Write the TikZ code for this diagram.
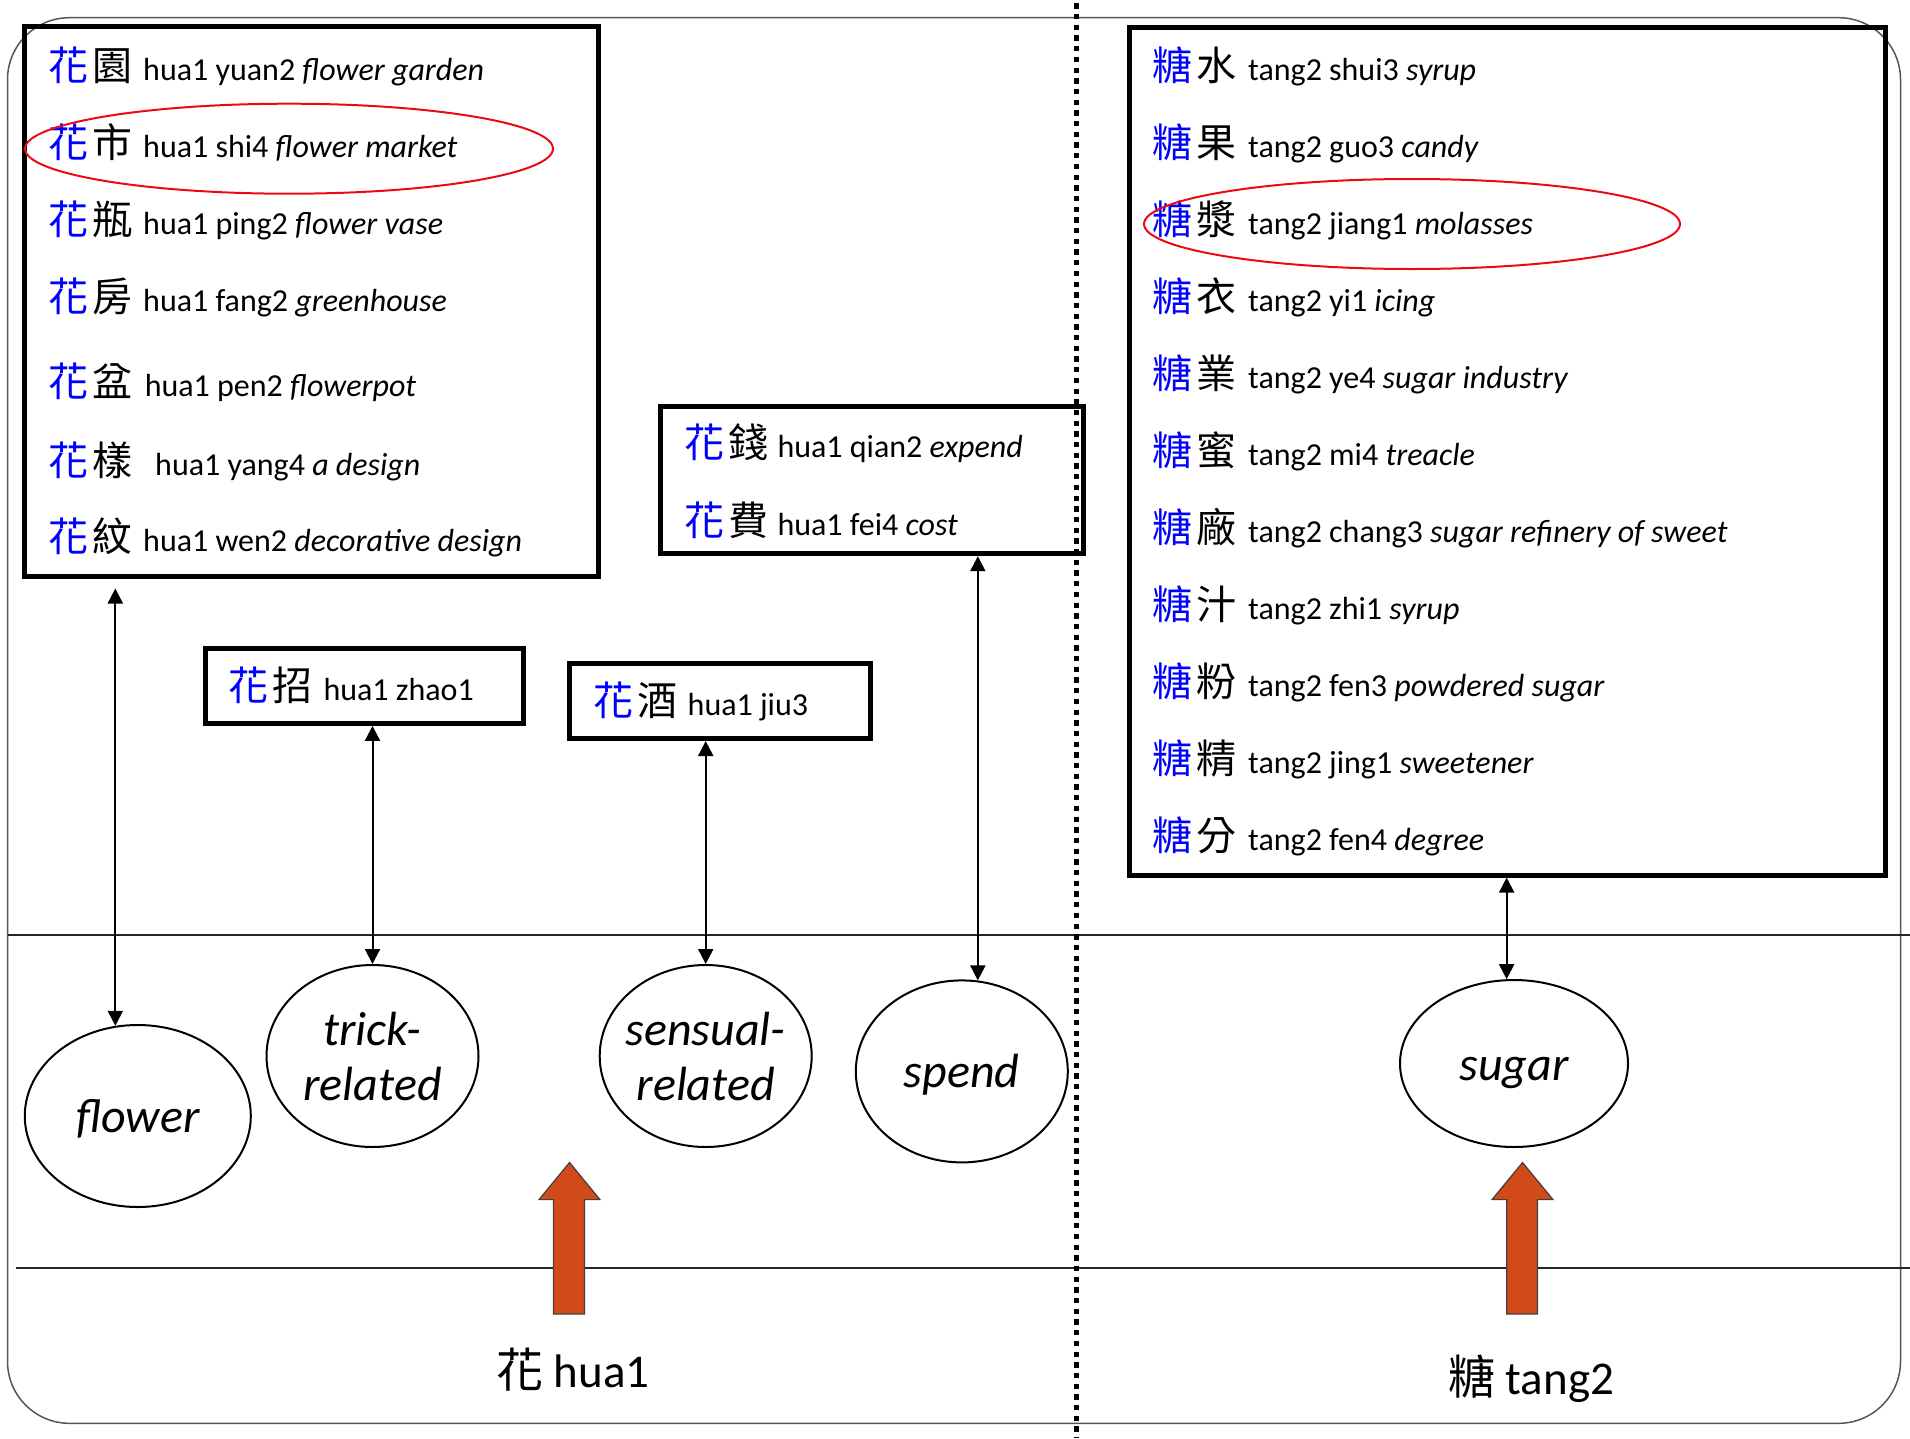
\documentclass[tikz,border=0pt]{standalone}
\usepackage{fontspec}
\setmainfont{Carlito}
\newfontfamily\cjkfont{Noto Sans CJK TC}
\usetikzlibrary{shapes.geometric,arrows.meta,calc}
\definecolor{zhblue}{RGB}{0,0,255}
\definecolor{hlred}{RGB}{235,10,20}
\definecolor{blockorange}{RGB}{210,74,24}
\definecolor{framegray}{RGB}{85,85,85}
\newcommand{\cjkpair}[2]{{\cjkfont\fontsize{40}{44}\selectfont\textcolor{zhblue}{#1}\hspace{4pt}#2}}
\newcommand{\wentry}[7]{\node[entry] (#1) at (#2,#3) {\makebox[#4pt][l]{\cjkpair{#5}{#6}}#7};}
\begin{document}
\begin{tikzpicture}[x=1pt,y=-1pt,
  bigbox/.style={draw=black, line width=5pt, rectangle, inner sep=0pt},
  ell/.style={draw=black, line width=2pt, ellipse, inner sep=0pt, align=center, font=\fontsize{48}{55}\selectfont\itshape},
  oneline/.style={text height=40pt, text depth=7pt},
  hl/.style={draw=hlred, line width=2pt, ellipse, inner sep=0pt},
  entry/.style={anchor=base west, inner sep=0pt, font=\fontsize{32}{38}\selectfont},
  dbl/.style={{Triangle[length=15pt,width=15pt]}-{Triangle[length=15pt,width=15pt]}, line width=2pt},
  block/.style={fill=blockorange, draw=black!75, line width=1.2pt},
  baselabel/.style={anchor=base, inner sep=0pt, font=\fontsize{47}{55}\selectfont}
]
\useasboundingbox (0,0) rectangle (1910,1438);
% frame and lines
\draw[framegray, line width=1.5pt, rounded corners=62pt] (7.5,17.7) rectangle (1900.5,1423.3);
\draw[black!85, line width=2pt] (7.5,935) -- (1910,935);
\draw[black!85, line width=2pt] (15.5,1268) -- (1910,1268);
\draw[line width=5pt, dash pattern=on 5.3pt off 5.4pt, dash phase=7.4pt] (1076,0) -- (1076,1438);

% boxes
\node[bigbox, minimum width=574.2pt, minimum height=549.3pt] (leftbox) at (311.4,301.35) {};
\node[bigbox, minimum width=756pt, minimum height=847.7pt] (rightbox) at (1507,451.2) {};
\node[bigbox, minimum width=422.7pt, minimum height=147.7pt] (spendbox) at (871.65,479.85) {};
\node[bigbox, minimum width=317.2pt, minimum height=75.2pt] (trickbox) at (364.4,685.8) {};
\node[bigbox, minimum width=301.6pt, minimum height=75pt] (sensbox) at (720,701) {};

% left entries
\wentry{l1}{48.6}{80}{94.4}{花}{園}{hua1 yuan2 \textit{flower garden}}
\wentry{l2}{48.6}{157}{94.4}{花}{市}{hua1 shi4 \textit{flower market}}
\wentry{l3}{48.6}{234}{94.4}{花}{瓶}{hua1 ping2 \textit{flower vase}}
\wentry{l4}{48.6}{311.5}{94.4}{花}{房}{hua1 fang2 \textit{greenhouse}}
\wentry{l5}{48.6}{396}{96}{花}{盆}{hua1 pen2 \textit{flowerpot}}
\wentry{l6}{48.6}{475}{106.4}{花}{樣}{hua1 yang4 \textit{a design}}
\wentry{l7}{48.6}{551}{94.4}{花}{紋}{hua1 wen2 \textit{decorative design}}

% spend / trick / sensual entries
\wentry{s1}{684}{457}{93.3}{花}{錢}{hua1 qian2 \textit{expend}}
\wentry{s2}{684}{535}{93.3}{花}{費}{hua1 fei4 \textit{cost}}
\wentry{t1}{228}{700.7}{95.3}{花}{招}{hua1 zhao1}
\wentry{u1}{593}{715.7}{94.5}{花}{酒}{hua1 jiu3}

% right entries
\wentry{r1}{1152.6}{80}{95.4}{糖}{水}{tang2 shui3 \textit{syrup}}
\wentry{r2}{1152.6}{157}{95.4}{糖}{果}{tang2 guo3 \textit{candy}}
\wentry{r3}{1152.6}{234}{95.4}{糖}{漿}{tang2 jiang1 \textit{molasses}}
\wentry{r4}{1152.6}{311}{95.4}{糖}{衣}{tang2 yi1 \textit{icing}}
\wentry{r5}{1152.6}{388}{95.4}{糖}{業}{tang2 ye4 \textit{sugar industry}}
\wentry{r6}{1152.6}{465}{95.4}{糖}{蜜}{tang2 mi4 \textit{treacle}}
\wentry{r7}{1152.6}{542}{95.4}{糖}{廠}{tang2 chang3 \textit{sugar refinery of sweet}}
\wentry{r8}{1152.6}{619}{95.4}{糖}{汁}{tang2 zhi1 \textit{syrup}}
\wentry{r9}{1152.6}{696}{95.4}{糖}{粉}{tang2 fen3 \textit{powdered sugar}}
\wentry{r10}{1152.6}{773}{95.4}{糖}{精}{tang2 jing1 \textit{sweetener}}
\wentry{r11}{1152.6}{850}{95.4}{糖}{分}{tang2 fen4 \textit{degree}}

% highlights
\node[hl, minimum width=528pt, minimum height=90pt] (hl1) at (289,148.7) {};
\node[hl, minimum width=536pt, minimum height=90pt] (hl2) at (1412,224) {};

% sense ellipses
\node[ell, oneline, minimum width=226pt, minimum height=182pt] (flower) at (137.8,1116) {flower};
\node[ell, minimum width=212pt, minimum height=182pt] (trick) at (372.5,1056) {\makebox[0pt]{trick-}\\\makebox[0pt]{related}};
\node[ell, minimum width=212pt, minimum height=182pt] (sensual) at (705.7,1056) {\makebox[0pt]{sensual-}\\\makebox[0pt]{related}};
\node[ell, oneline, minimum width=212pt, minimum height=182pt] (spend) at (961.8,1071.4) {spend};
\node[ell, oneline, minimum width=228pt, minimum height=167pt] (sugar) at (1514,1063.5) {sugar};

% connectors
\draw[dbl, shorten <=10pt] (flower.104 |- leftbox.south) -- (flower.104);
\draw[dbl] (trick.north |- trickbox.south) -- (trick.north);
\draw[dbl] (sensual.north |- sensbox.south) -- (sensual.north);
\draw[dbl] (spend.80 |- spendbox.south) -- (spend.80);
\draw[dbl] (sugar.95 |- rightbox.south) -- (sugar.95);

% block arrows
\filldraw[block] (553.5,1314) -- (553.5,1199.6) -- (539,1199.6) -- (569.5,1162.5) -- (600,1199.6) -- (584.5,1199.6) -- (584.5,1314) -- cycle;
\filldraw[block] (1506.7,1314) -- (1506.7,1199.6) -- (1492,1199.6) -- (1522.5,1162.5) -- (1553,1199.6) -- (1537.4,1199.6) -- (1537.4,1314) -- cycle;

% bottom labels
\node[baselabel] (hualabel) at (573,1387) {{\cjkfont 花} hua1};
\node[baselabel] (tanglabel) at (1531,1394) {{\cjkfont 糖} tang2};
\end{tikzpicture}
\end{document}
